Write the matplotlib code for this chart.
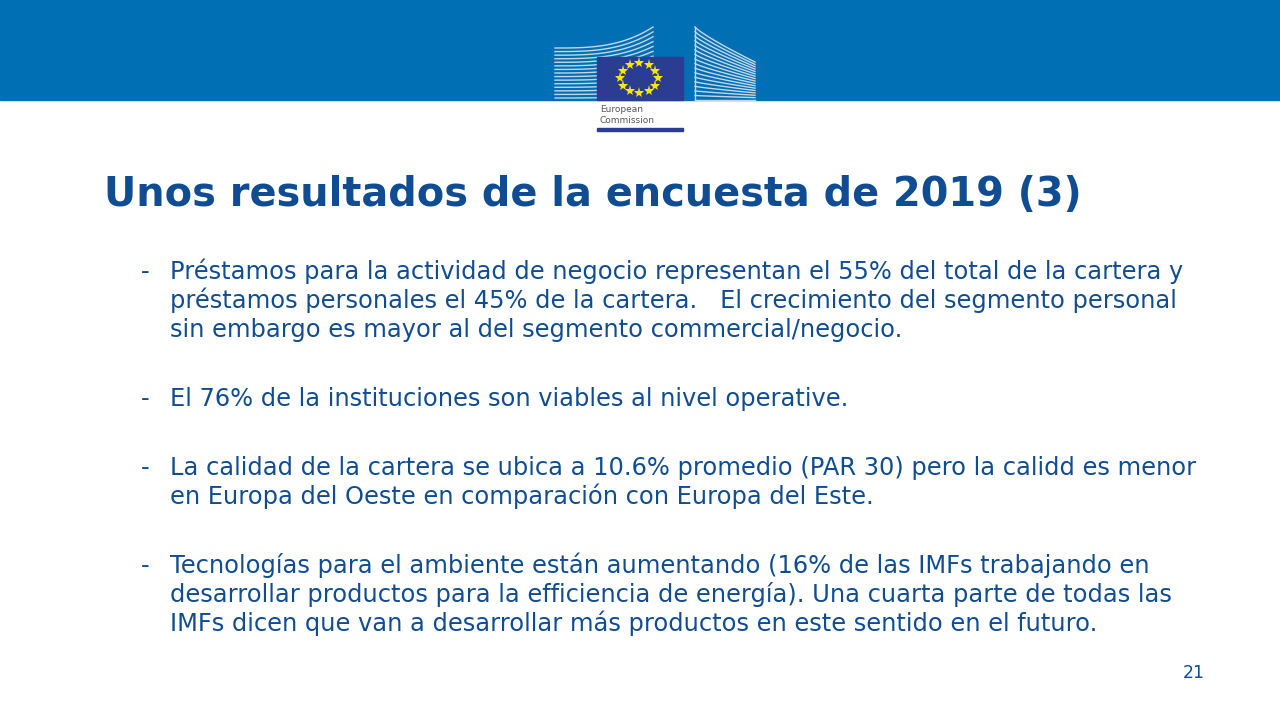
import numpy as np
import matplotlib
matplotlib.use('Agg')
import matplotlib.pyplot as plt
from matplotlib.patches import Rectangle

# slide content
title = 'Unos resultados de la encuesta de 2019 (3)'
bullets = [
    ['Préstamos para la actividad de negocio representan el 55% del total de la cartera y',
     'préstamos personales el 45% de la cartera.   El crecimiento del segmento personal',
     'sin embargo es mayor al del segmento commercial/negocio.'],
    ['El 76% de la instituciones son viables al nivel operative.'],
    ['La calidad de la cartera se ubica a 10.6% promedio (PAR 30) pero la calidd es menor',
     'en Europa del Oeste en comparación con Europa del Este.'],
    ['Tecnologías para el ambiente están aumentando (16% de las IMFs trabajando en',
     'desarrollar productos para la efficiencia de energía). Una cuarta parte de todas las',
     'IMFs dicen que van a desarrollar más productos en este sentido en el futuro.'],
]
bullet_top = [279, 406, 475, 573]  # baseline of first line of each bullet
page_num = '21'

text_col = '#0F4C91'
banner_col = '#006FB4'

fig = plt.figure(figsize=(12.8, 7.2), dpi=100, facecolor='white')
ax = fig.add_axes([0, 0, 1, 1])
ax.set_xlim(0, 1280)
ax.set_ylim(720, 0)
ax.axis('off')

# banner
ax.add_patch(Rectangle((0, 0), 1280, 100, color=banner_col, zorder=1))

# logo - left building
for i in range(15):
    t = i / 14
    yl = 48 + t * 50
    yr = 27 + t * 68
    s = np.linspace(0, 1, 60)
    x = 555 + s * 98
    y = yl - (yl - yr) * s ** 3
    ax.plot(x, y, color='#c4d6e8', lw=1.0, zorder=2)
# logo - right building
ax.plot([695, 695], [27, 100], color='#c4d6e8', lw=1.0, zorder=2)
for i in range(17):
    t = i / 16
    yl = 27 + t * 73
    yr = 62 + t * 38
    s = np.linspace(0, 1, 60)
    x = 695 + s * 60
    y = yl + (yr - yl) * s ** 0.85
    ax.plot(x, y, color='#c4d6e8', lw=1.0, zorder=2)

# flag
ax.add_patch(Rectangle((597, 57), 86, 43, color='#2B3D93', zorder=3))
ang = np.linspace(0, 2 * np.pi, 13)[:-1]
ax.plot(639 + 19 * np.cos(ang), 78 + 15 * np.sin(ang), ls='none', marker='*',
        color='#FFE500', markersize=8, markeredgewidth=0, zorder=4)
ax.text(600, 112, 'European', fontsize=6.5, color='#555555', va='baseline', zorder=4)
ax.text(600, 123, 'Commission', fontsize=6.5, color='#555555', va='baseline', zorder=4)
ax.add_patch(Rectangle((597, 128), 86, 3, color='#2B3D93', zorder=3))

fig.canvas.draw()
renderer = fig.canvas.get_renderer()

# title, sized to match width
tt = ax.text(104, 206, title, fontsize=30, fontweight='bold', color=text_col, va='baseline')
w = tt.get_window_extent(renderer).width
tt.set_fontsize(30 * 978 / w)

# bullets
probe = ax.text(0, 0, bullets[0][0], fontsize=15)
body_fs = 15 * 1011 / probe.get_window_extent(renderer).width
probe.remove()

line_gap = 28.8
for lines, y0 in zip(bullets, bullet_top):
    ax.text(141, y0, '-', fontsize=body_fs, color=text_col, va='baseline')
    for j, line in enumerate(lines):
        ax.text(170, y0 + j * line_gap, line, fontsize=body_fs, color=text_col, va='baseline')

ax.text(1205, 678, page_num, fontsize=12.5, color=text_col, va='baseline', ha='right')

fig.savefig('out.png', dpi=100, facecolor='white')
